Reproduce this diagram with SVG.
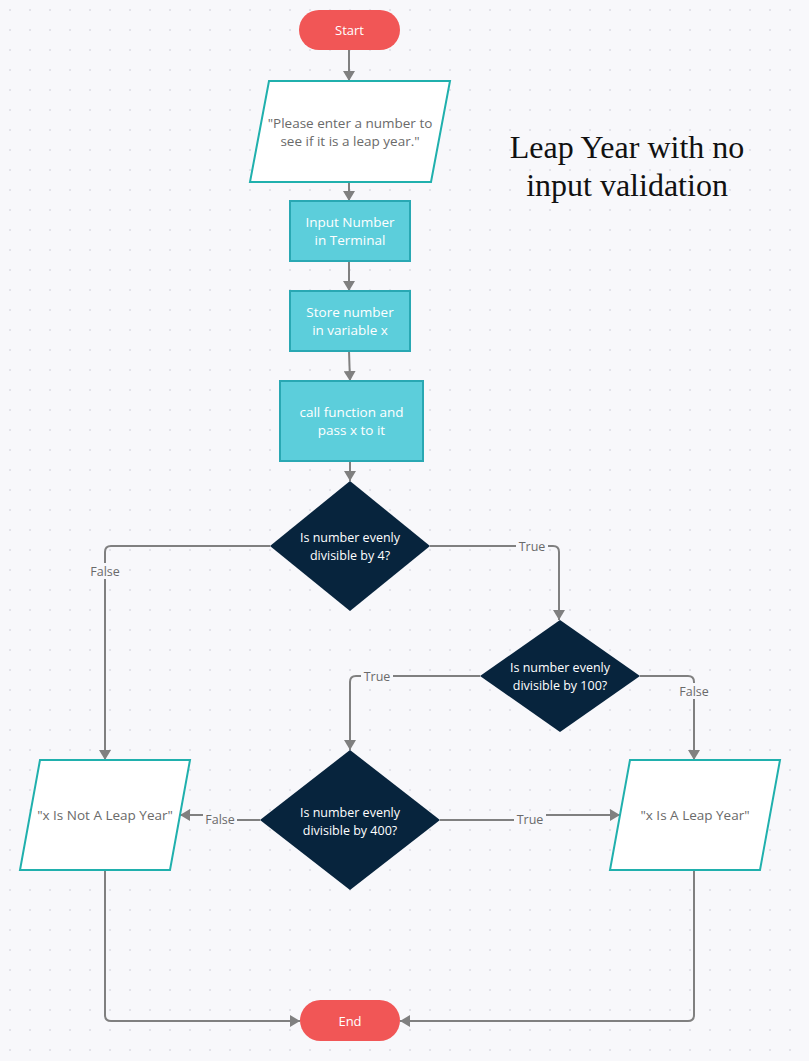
<svg xmlns="http://www.w3.org/2000/svg" width="809" height="1061" viewBox="0 0 809 1061">
<defs>
<pattern id="dots" width="20" height="20" patternUnits="userSpaceOnUse">
<circle cx="10" cy="10" r="1" fill="#dcdce5"/>
</pattern>
<marker id="arr" markerWidth="10" markerHeight="12" refX="10" refY="6" orient="auto" markerUnits="userSpaceOnUse">
<path d="M0,0 L10,6 L0,12 z" fill="#808080"/>
</marker>
<style>
.term{fill:#f15656}
.term-t{fill:#ffffff;font-family:"Open Sans","Noto Sans",sans-serif;font-size:13px;text-anchor:middle}
.io{fill:#ffffff;stroke:#20b0ad;stroke-width:2}
.io-t{fill:#6a6a6a;font-family:"Open Sans","Noto Sans",sans-serif;font-size:13.5px;text-anchor:middle}
.proc{fill:#5ccedb;stroke:#29a8b3;stroke-width:2}
.proc-t{fill:#ffffff;font-family:"Open Sans","Noto Sans",sans-serif;font-size:13.5px;text-anchor:middle}
.dec{fill:#07243d}
.dec-t{fill:#ffffff;font-family:"Open Sans","Noto Sans",sans-serif;font-size:12.5px;text-anchor:middle}
.con{fill:none;stroke:#808080;stroke-width:2}
.lbl-bg{fill:#f8f8fb}
.lbl{fill:#6a6a6a;font-family:"Open Sans","Noto Sans",sans-serif;font-size:12.5px;text-anchor:middle}
.title{fill:#111111;font-family:"Liberation Serif","DejaVu Serif",serif;font-size:32px;text-anchor:middle}
</style>
</defs>
<rect width="809" height="1061" fill="#f8f8fb"/>
<rect width="809" height="1061" fill="url(#dots)"/>

<g id="connectors">
<path class="con" d="M349,50 V81" marker-end="url(#arr)"/>
<path class="con" d="M349,183 V201" marker-end="url(#arr)"/>
<path class="con" d="M349,261 V291" marker-end="url(#arr)"/>
<path class="con" d="M349,351 L350,381" marker-end="url(#arr)"/>
<path class="con" d="M350,461 V481" marker-end="url(#arr)"/>
<path class="con" d="M270,546 H111 Q105,546 105,552 V760" marker-end="url(#arr)"/>
<path class="con" d="M430,546 H553 Q559,546 559,552 V620" marker-end="url(#arr)"/>
<path class="con" d="M480,676 H356 Q350,676 350,682 V750" marker-end="url(#arr)"/>
<path class="con" d="M640,676 H688 Q694,676 694,682 V760" marker-end="url(#arr)"/>
<path class="con" d="M260,820 H220 V815 H180" marker-end="url(#arr)"/>
<path class="con" d="M440,820 H530 V815 H620" marker-end="url(#arr)"/>
<path class="con" d="M105,870 V1015 Q105,1021 111,1021 H300" marker-end="url(#arr)"/>
<path class="con" d="M694,870 V1015 Q694,1021 688,1021 H400" marker-end="url(#arr)"/>
<rect class="lbl-bg" x="88" y="563" width="34" height="16"/>
<text class="lbl" x="105" y="576">False</text>
<rect class="lbl-bg" x="516" y="538" width="32" height="16"/>
<text class="lbl" x="532" y="551">True</text>
<rect class="lbl-bg" x="361" y="668" width="32" height="16"/>
<text class="lbl" x="377" y="681">True</text>
<rect class="lbl-bg" x="677" y="683" width="34" height="16"/>
<text class="lbl" x="694" y="696">False</text>
<rect class="lbl-bg" x="203" y="811" width="34" height="16"/>
<text class="lbl" x="220" y="824">False</text>
<rect class="lbl-bg" x="514" y="811" width="32" height="16"/>
<text class="lbl" x="530" y="824">True</text>
</g>

<g id="title">
<text class="title" x="627" y="158">Leap Year with no</text>
<text class="title" x="627" y="196">input validation</text>
</g>

<g id="start">
<rect class="term" x="299" y="10" width="101" height="40" rx="20"/>
<text class="term-t" x="349.5" y="35">Start</text>
</g>

<g id="prompt">
<polygon class="io" points="269,81 450,81 431,182 250,182"/>
<text class="io-t" x="350" y="128">"Please enter a number to</text>
<text class="io-t" x="350" y="146">see if it is a leap year."</text>
</g>

<g id="input">
<rect class="proc" x="290" y="201" width="120" height="60"/>
<text class="proc-t" x="350" y="227">Input Number</text>
<text class="proc-t" x="350" y="245">in Terminal</text>
</g>

<g id="store">
<rect class="proc" x="290" y="291" width="120" height="60"/>
<text class="proc-t" x="350" y="317">Store number</text>
<text class="proc-t" x="350" y="335">in variable x</text>
</g>

<g id="call">
<rect class="proc" x="280" y="381" width="143" height="80"/>
<text class="proc-t" x="351.5" y="417">call function and</text>
<text class="proc-t" x="351.5" y="435">pass x to it</text>
</g>

<g id="div4">
<polygon class="dec" points="350,481 430,546 350,611 270,546"/>
<text class="dec-t" x="350" y="542">Is number evenly</text>
<text class="dec-t" x="350" y="560">divisible by 4?</text>
</g>

<g id="div100">
<polygon class="dec" points="560,620 640,676 560,732 480,676"/>
<text class="dec-t" x="560" y="672">Is number evenly</text>
<text class="dec-t" x="560" y="690">divisible by 100?</text>
</g>

<g id="div400">
<polygon class="dec" points="350,750 440,820 350,890 260,820"/>
<text class="dec-t" x="350" y="817">Is number evenly</text>
<text class="dec-t" x="350" y="835">divisible by 400?</text>
</g>

<g id="notleap">
<polygon class="io" points="40,760 190,760 170,870 20,870"/>
<text class="io-t" x="105" y="820">"x Is Not A Leap Year"</text>
</g>

<g id="leap">
<polygon class="io" points="630,760 780,760 760,870 610,870"/>
<text class="io-t" x="695" y="820">"x Is A Leap Year"</text>
</g>

<g id="end">
<rect class="term" x="300" y="1000" width="100" height="41" rx="20.5"/>
<text class="term-t" x="350" y="1026">End</text>
</g>
</svg>
